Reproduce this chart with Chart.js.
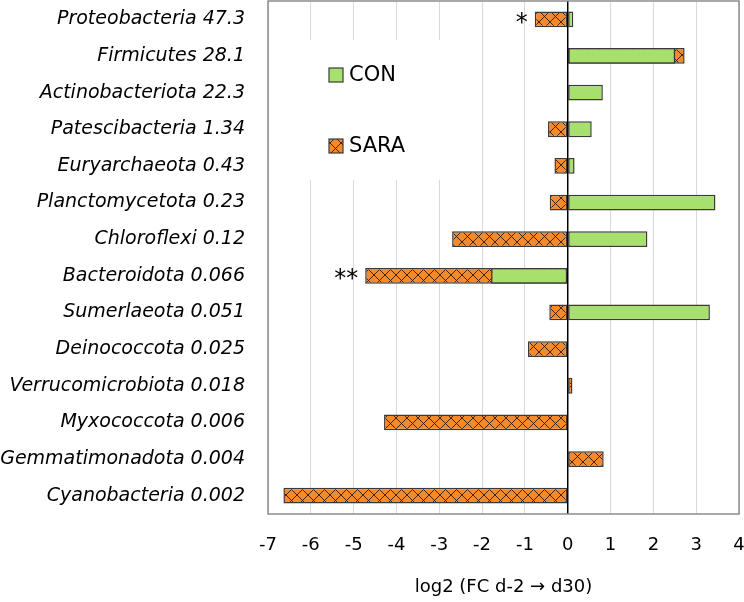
<!DOCTYPE html>
<html>
<head>
<meta charset="utf-8">
<script src="https://cdn.jsdelivr.net/npm/chart.js@4.4.1/dist/chart.umd.min.js"></script>
<style>
  html, body { margin: 0; padding: 0; background: #fff; }
  #wrap { width: 744px; height: 602px; position: relative; }
</style>
</head>
<body>
<div id="wrap"><canvas id="chart"></canvas></div>
<script>
// ====== Data ======
const CATEGORIES = [
  "Proteobacteria 47.3", "Firmicutes 28.1", "Actinobacteriota 22.3",
  "Patescibacteria 1.34", "Euryarchaeota 0.43", "Planctomycetota 0.23",
  "Chloroflexi 0.12", "Bacteroidota 0.066", "Sumerlaeota 0.051",
  "Deinococcota 0.025", "Verrucomicrobiota 0.018", "Myxococcota 0.006",
  "Gemmatimonadota 0.004", "Cyanobacteria 0.002"
];
const CON  = [0.13, 2.51, 0.82, 0.56, 0.16, 3.45, 1.86, -1.79, 3.32, null, null, null, null, null];
const SARA = [-0.77, 2.73, null, -0.46, -0.31, -0.42, -2.70, -4.73, -0.43, -0.93, 0.11, -4.29, 0.84, -6.64];
const SIG  = ["*", "", "", "", "", "", "", "**", "", "", "", "", "", ""];
const X_TICKS = { min: -7, max: 4, step: 1 };

const GREEN = "#a8e06e";
const ORANGE = "#f58a2b";
const EDGE = "#3a3a3a";
const FONT = "'DejaVu Sans'";

// ====== Crosshatch pattern for SARA ======
function makeHatch() {
  const c = document.createElement("canvas");
  c.width = 11; c.height = 11;
  const g = c.getContext("2d");
  g.fillStyle = ORANGE;
  g.fillRect(0, 0, 11, 11);
  g.strokeStyle = "rgba(45,25,5,0.9)";
  g.lineWidth = 1;
  g.beginPath();
  g.moveTo(0, 0); g.lineTo(11, 11);
  g.moveTo(11, 0); g.lineTo(0, 11);
  g.stroke();
  return g.createPattern(c, "repeat");
}
const hatch = makeHatch();

// ====== Plugins: frame, zero line, legend, asterisks ======
const decorPlugin = {
  id: "decor",
  beforeDatasetsDraw(chart) {
    const ctx = chart.ctx;
    // legend box (white background hides grid lines)
    ctx.save();
    ctx.fillStyle = "#fff";
    ctx.fillRect(300, 40, 145, 140);
    const items = [
      { label: "CON", fill: GREEN, y: 75 },
      { label: "SARA", fill: hatch, y: 146 }
    ];
    items.forEach(it => {
      ctx.fillStyle = it.fill;
      ctx.fillRect(329, it.y - 7, 14, 14);
      ctx.strokeStyle = EDGE;
      ctx.lineWidth = 1.2;
      ctx.strokeRect(329, it.y - 7, 14, 14);
      ctx.fillStyle = "#000";
      ctx.font = "21px " + FONT;
      ctx.textBaseline = "middle";
      ctx.textAlign = "left";
      ctx.fillText(it.label, 349, it.y + 1);
    });
    ctx.restore();
  },
  afterDatasetsDraw(chart) {
    const ctx = chart.ctx;
    const a = chart.chartArea;
    const xs = chart.scales.x, ys = chart.scales.y;
    ctx.save();
    // zero line
    const x0 = xs.getPixelForValue(0);
    ctx.strokeStyle = "#000";
    ctx.lineWidth = 1.5;
    ctx.beginPath();
    ctx.moveTo(x0, a.top);
    ctx.lineTo(x0, a.bottom);
    ctx.stroke();
    // frame
    ctx.strokeStyle = "#8c8c8c";
    ctx.lineWidth = 1.5;
    ctx.strokeRect(a.left, a.top, a.right - a.left, a.bottom - a.top);
    // significance marks
    ctx.fillStyle = "#000";
    ctx.font = "24px " + FONT;
    ctx.textAlign = "right";
    ctx.textBaseline = "middle";
    SIG.forEach((s, i) => {
      if (!s) return;
      const end = Math.min(CON[i] ?? 0, SARA[i] ?? 0, 0);
      ctx.fillText(s, xs.getPixelForValue(end) - 7, ys.getPixelForValue(i) + 4);
    });
    ctx.restore();
  }
};

// ====== Chart ======
const ctx = document.getElementById("chart").getContext("2d");
new Chart(ctx, {
  type: "bar",
  data: {
    labels: CATEGORIES,
    datasets: [
      { label: "CON", data: CON, backgroundColor: GREEN, borderColor: EDGE,
        borderWidth: 1.5, borderSkipped: false, grouped: false,
        barPercentage: 0.43, categoryPercentage: 1 },
      { label: "SARA", data: SARA, backgroundColor: hatch, borderColor: EDGE,
        borderWidth: 1.5, borderSkipped: false, grouped: false,
        barPercentage: 0.43, categoryPercentage: 1 }
    ]
  },
  options: {
    indexAxis: "y",
    responsive: true,
    maintainAspectRatio: false,
    animation: false,
    layout: { autoPadding: false, padding: { top: 1, right: 5, bottom: 0, left: 0 } },
    plugins: { legend: { display: false }, tooltip: { enabled: false } },
    scales: {
      x: {
        min: X_TICKS.min, max: X_TICKS.max,
        ticks: { stepSize: X_TICKS.step, padding: 21, color: "#000",
                 font: { family: FONT, size: 18 } },
        grid: { color: "#d9d9d9", lineWidth: 1, drawTicks: false },
        border: { display: false },
        title: { display: true, text: "log2 (FC d-2 \u2192 d30)", color: "#000",
                 font: { family: FONT, size: 18 } },
        afterFit(scale) {
          scale.height = 88;
          scale.paddingLeft = 0; scale.paddingRight = 0;
        }
      },
      y: {
        ticks: { padding: 23, color: "#000", autoSkip: false,
                 font: { family: FONT, size: 19, style: "italic" } },
        grid: { display: false, drawTicks: false },
        border: { display: false },
        afterFit(scale) {
          scale.width = 268;
          scale.paddingTop = 0; scale.paddingBottom = 0;
        }
      }
    }
  },
  plugins: [decorPlugin]
});
</script>
</body>
</html>
